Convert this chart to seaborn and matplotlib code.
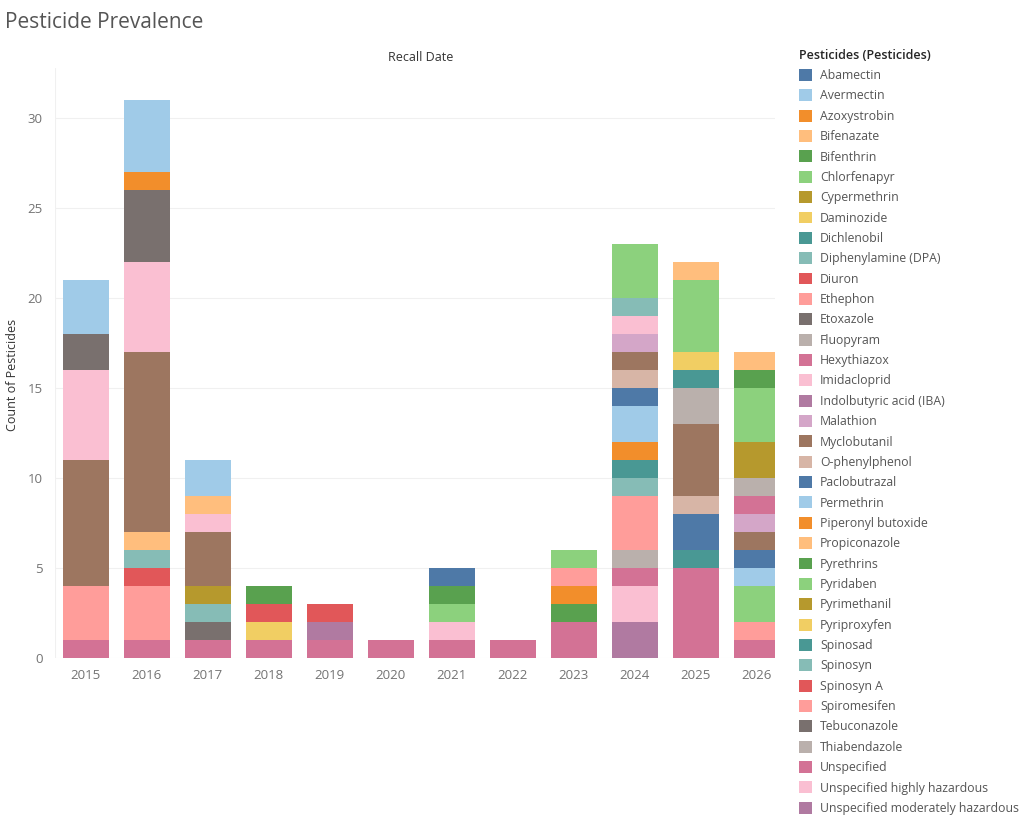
import pandas as pd
import matplotlib.pyplot as plt
import seaborn as sns

# --- Data ---
years = [2015, 2016, 2017, 2018, 2019, 2020, 2021, 2022, 2023, 2024, 2025, 2026]

pesticides = [
    "Abamectin", "Avermectin", "Azoxystrobin", "Bifenazate", "Bifenthrin",
    "Chlorfenapyr", "Cypermethrin", "Daminozide", "Dichlenobil",
    "Diphenylamine (DPA)", "Diuron", "Ethephon", "Etoxazole", "Fluopyram",
    "Hexythiazox", "Imidacloprid", "Indolbutyric acid (IBA)", "Malathion",
    "Myclobutanil", "O-phenylphenol", "Paclobutrazal", "Permethrin",
    "Piperonyl butoxide", "Propiconazole", "Pyrethrins", "Pyridaben",
    "Pyrimethanil", "Pyriproxyfen", "Spinosad", "Spinosyn", "Spinosyn A",
    "Spiromesifen", "Tebuconazole", "Thiabendazole", "Unspecified",
    "Unspecified highly hazardous", "Unspecified moderately hazardous",
]

counts_2015 = {"Avermectin": 3, "Etoxazole": 2, "Imidacloprid": 5, "Myclobutanil": 7,
               "Spiromesifen": 3, "Unspecified": 1}
counts_2016 = {"Avermectin": 4, "Azoxystrobin": 1, "Etoxazole": 4, "Imidacloprid": 5,
               "Myclobutanil": 10, "Propiconazole": 1, "Spinosyn": 1, "Spinosyn A": 1,
               "Spiromesifen": 3, "Unspecified": 1}
counts_2017 = {"Avermectin": 2, "Bifenazate": 1, "Imidacloprid": 1, "Myclobutanil": 3,
               "Pyrimethanil": 1, "Spinosyn": 1, "Tebuconazole": 1, "Unspecified": 1}
counts_2018 = {"Bifenthrin": 1, "Diuron": 1, "Pyriproxyfen": 1, "Unspecified": 1}
counts_2019 = {"Diuron": 1, "Indolbutyric acid (IBA)": 1, "Unspecified": 1}
counts_2020 = {"Unspecified": 1}
counts_2021 = {"Abamectin": 1, "Bifenthrin": 1, "Chlorfenapyr": 1, "Imidacloprid": 1,
               "Unspecified": 1}
counts_2022 = {"Unspecified": 1}
counts_2023 = {"Chlorfenapyr": 1, "Ethephon": 1, "Piperonyl butoxide": 1, "Pyrethrins": 1,
               "Unspecified": 2}
counts_2024 = {"Chlorfenapyr": 3, "Diphenylamine (DPA)": 1, "Imidacloprid": 1, "Malathion": 1,
               "Myclobutanil": 1, "O-phenylphenol": 1, "Paclobutrazal": 1, "Permethrin": 2,
               "Piperonyl butoxide": 1, "Spinosad": 1, "Spinosyn": 1, "Spiromesifen": 3,
               "Thiabendazole": 1, "Unspecified": 1, "Unspecified highly hazardous": 2,
               "Unspecified moderately hazardous": 2}
counts_2025 = {"Bifenazate": 1, "Chlorfenapyr": 4, "Daminozide": 1, "Dichlenobil": 1,
               "Fluopyram": 2, "Myclobutanil": 4, "O-phenylphenol": 1, "Paclobutrazal": 2,
               "Spinosad": 1, "Unspecified": 5}
counts_2026 = {"Bifenazate": 1, "Bifenthrin": 1, "Chlorfenapyr": 3, "Cypermethrin": 2,
               "Fluopyram": 1, "Hexythiazox": 1, "Malathion": 1, "Myclobutanil": 1,
               "Paclobutrazal": 1, "Permethrin": 1, "Pyridaben": 2, "Spiromesifen": 1,
               "Unspecified": 1}

yearly_counts = [counts_2015, counts_2016, counts_2017, counts_2018, counts_2019, counts_2020,
                 counts_2021, counts_2022, counts_2023, counts_2024, counts_2025, counts_2026]

# Tableau 20 palette, cycled over the pesticide list
tableau20 = ["#4e79a7", "#a0cbe8", "#f28e2b", "#ffbe7d", "#59a14f", "#8cd17d", "#b6992d",
             "#f1ce63", "#499894", "#86bcb6", "#e15759", "#ff9d9a", "#79706e", "#bab0ac",
             "#d37295", "#fabfd2", "#b07aa1", "#d4a6c8", "#9d7660", "#d7b5a6"]


def plot_pesticide_prevalence():
    rows = []
    for year, counts in zip(years, yearly_counts):
        for name, n in counts.items():
            rows.append({"Recall Date": year, "Pesticide": name, "Count": n})
    df = pd.DataFrame(rows)

    palette = {p: tableau20[i % len(tableau20)] for i, p in enumerate(pesticides)}

    sns.set_style("white")
    plt.rcParams["font.family"] = ["Open Sans", "DejaVu Sans"]

    fig = plt.figure(figsize=(10.24, 8.16), dpi=100)
    ax = fig.add_axes([0.054, 0.1936, 0.703, 0.723])

    sns.histplot(
        data=df, x="Recall Date", weights="Count", hue="Pesticide",
        hue_order=pesticides, palette=palette, multiple="stack",
        discrete=True, shrink=0.75, alpha=1, linewidth=0, ax=ax,
    )

    ax.set_xlim(2014.5, 2026.3)
    ax.set_ylim(0, 32.8)
    ax.set_xticks(years)
    ax.set_xticklabels([str(y) for y in years])
    ax.set_yticks(range(0, 31, 5))
    ax.tick_params(axis="both", length=0, labelsize=9.5, labelcolor="#737373")
    ax.tick_params(axis="y", pad=9)
    ax.tick_params(axis="x", pad=8)
    ax.grid(axis="y", color="#f0f0f0", linewidth=0.8)
    ax.set_axisbelow(True)
    sns.despine(ax=ax, left=True, bottom=True, top=True, right=True)
    ax.axvline(2014.5, color="#f0f0f0", linewidth=0.8, zorder=0)

    ax.set_xlabel("")
    ax.set_ylabel("Count of Pesticides", fontsize=9, color="#333333")
    ax.yaxis.set_label_coords(-0.051, 0.48)
    ax.set_title("Recall Date", fontsize=9, color="#333333", pad=5, x=0.507)

    fig.text(0.005, 0.985, "Pesticide Prevalence", fontsize=15, color="#555555",
             ha="left", va="top")

    sns.move_legend(
        ax, "upper left", bbox_to_anchor=(1.026, 1.041), frameon=False,
        title="Pesticides (Pesticides)", fontsize=8.8, title_fontsize=9,
        labelspacing=0.594, handlelength=1.12, handleheight=1.12, handletextpad=0.62,
        borderaxespad=0,
    )
    leg = ax.get_legend()
    leg.get_title().set_fontweight("semibold")
    leg._legend_box.align = "left"
    for text in leg.get_texts():
        text.set_color("#555555")

    fig.savefig("out.png", dpi=100)


if __name__ == "__main__":
    plot_pesticide_prevalence()
